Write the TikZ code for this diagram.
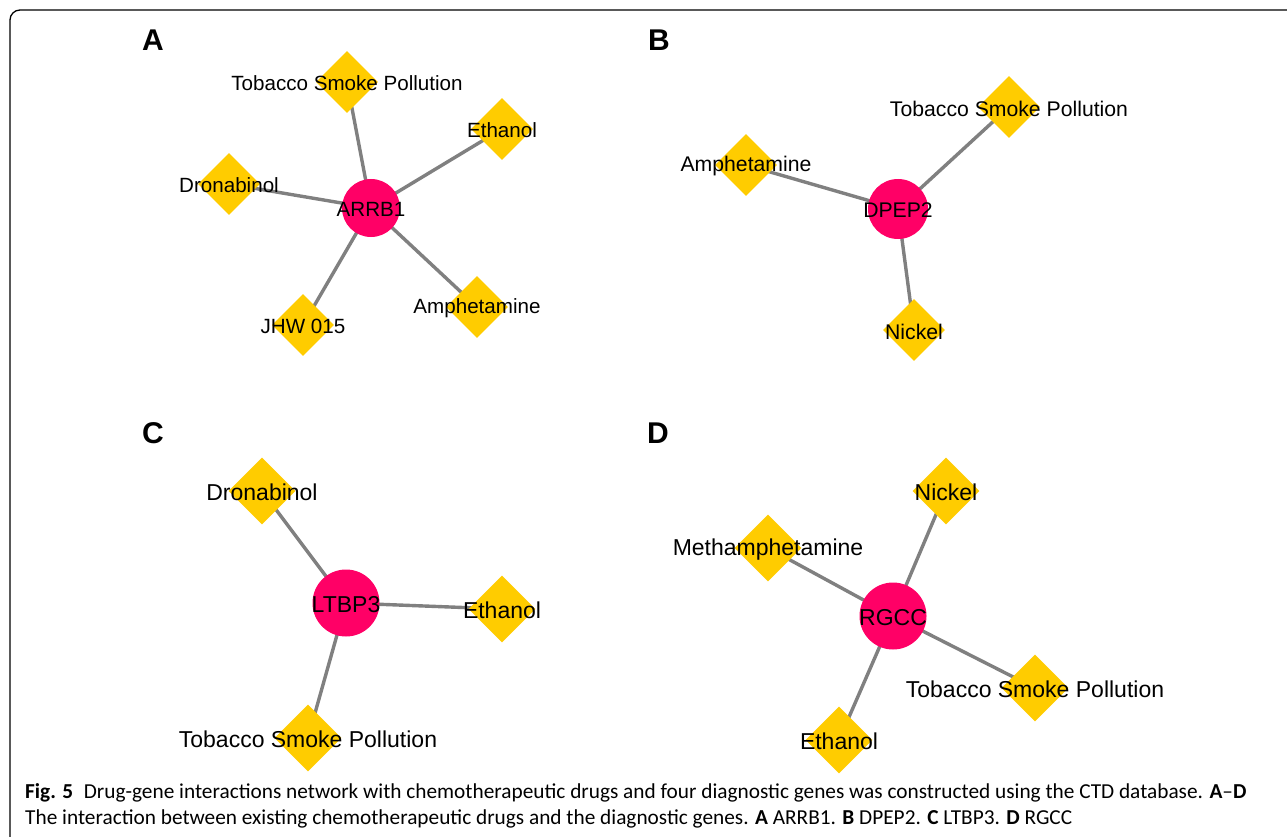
\documentclass[tikz,border=0pt]{standalone}
\usepackage{fontspec}
\setmainfont{Liberation Sans}
\newfontfamily\capfont{Carlito}
\usetikzlibrary{shapes.geometric}
\definecolor{genepink}{RGB}{255,0,102}
\definecolor{drugyellow}{RGB}{255,204,0}
\definecolor{edgegray}{RGB}{128,128,128}
\pgfdeclarelayer{bottom}
\pgfdeclarelayer{background}
\pgfsetlayers{bottom,background,main}
\begin{document}
\begin{tikzpicture}[x=1pt,y=-1pt,
  gene/.style={circle,fill=genepink,inner sep=0pt,minimum size=#1},
  drug/.style={diamond,fill=drugyellow,inner sep=0pt,minimum width=#1,minimum height=#1,aspect=1},
  edge/.style={draw=edgegray,line width=3.4pt},
  panel/.style={font=\fontsize{30}{32}\selectfont\bfseries},
  lblA/.style={font=\fontsize{20.6}{22}\selectfont,yshift=-1.5pt},
  lblB/.style={font=\fontsize{21.2}{23}\selectfont,yshift=-1.5pt},
  lblC/.style={font=\fontsize{23}{25}\selectfont,yshift=-1.5pt}]
\useasboundingbox (0,0) rectangle (1287,837);
\begin{pgfonlayer}{bottom}
\fill[white] (0,0) rectangle (1287,837);
\end{pgfonlayer}
\draw[line width=1.3pt] (1287,10) -- (20,10) arc[start angle=270,end angle=180,radius=10] -- (10,837);

% Panel A
\node[panel] (pA) at (153,40) {A};
\node[gene=58pt,label={[lblA]center:ARRB1}] (arrb1) at (371,208) {};
\node[drug=62pt,label={[lblA]center:Tobacco Smoke Pollution}] (aTSP) at (347,82) {};
\node[drug=62pt,label={[lblA]center:Ethanol}] (aEth) at (502,129) {};
\node[drug=62pt,label={[lblA]center:Dronabinol}] (aDro) at (229,184) {};
\node[drug=62pt,label={[lblA]center:JHW 015}] (aJHW) at (303,325) {};
\node[drug=62pt,label={[lblA]center:Amphetamine}] (aAmp) at (477,307) {};

% Panel B
\node[panel] (pB) at (659,40) {B};
\node[gene=60pt,label={[lblB]center:DPEP2}] (dpep2) at (898,209) {};
\node[drug=62pt,label={[lblB]center:Tobacco Smoke Pollution}] (bTSP) at (1009,107) {};
\node[drug=62pt,label={[lblB]center:Amphetamine}] (bAmp) at (746,165) {};
\node[drug=62pt,label={[lblB]center:Nickel}] (bNi) at (914,330) {};

% Panel C
\node[panel] (pC) at (153,433) {C};
\node[gene=67pt,label={[lblC]center:LTBP3}] (ltbp3) at (346,603) {};
\node[drug=67pt,label={[lblC]center:Dronabinol}] (cDro) at (262,491) {};
\node[drug=67pt,label={[lblC]center:Ethanol}] (cEth) at (502,609) {};
\node[drug=67pt,label={[lblC]center:Tobacco Smoke Pollution}] (cTSP) at (308,738) {};

% Panel D
\node[panel] (pD) at (658,433) {D};
\node[gene=67pt,label={[lblC]center:RGCC}] (rgcc) at (893,616) {};
\node[drug=67pt,label={[lblC]center:Nickel}] (dNi) at (946,491) {};
\node[drug=67pt,label={[lblC]center:Methamphetamine}] (dMeth) at (768,548) {};
\node[drug=67pt,label={[lblC]center:Tobacco Smoke Pollution}] (dTSP) at (1035,688) {};
\node[drug=67pt,label={[lblC]center:Ethanol}] (dEth) at (839,740) {};

\begin{pgfonlayer}{background}
\foreach \g/\d in {arrb1/aTSP,arrb1/aEth,arrb1/aDro,arrb1/aJHW,arrb1/aAmp,
  dpep2/bTSP,dpep2/bAmp,dpep2/bNi,
  ltbp3/cDro,ltbp3/cEth,ltbp3/cTSP,
  rgcc/dNi,rgcc/dMeth,rgcc/dTSP,rgcc/dEth}
  \draw[edge] (\g.center) -- (\d.center);
\end{pgfonlayer}

% Caption
\node[anchor=west,inner sep=0pt,font=\capfont\fontsize{21.3}{26}\selectfont] (cap1) at (25,793)
  {\textbf{Fig. 5}\enspace Drug-gene interactions network with chemotherapeutic drugs and four diagnostic genes was constructed using the CTD database. \textbf{A}–\textbf{D}};
\node[anchor=west,inner sep=0pt,font=\capfont\fontsize{21.3}{26}\selectfont] (cap2) at (25,819)
  {The interaction between existing chemotherapeutic drugs and the diagnostic genes. \textbf{A} ARRB1. \textbf{B} DPEP2. \textbf{C} LTBP3. \textbf{D} RGCC};
\end{tikzpicture}
\end{document}
